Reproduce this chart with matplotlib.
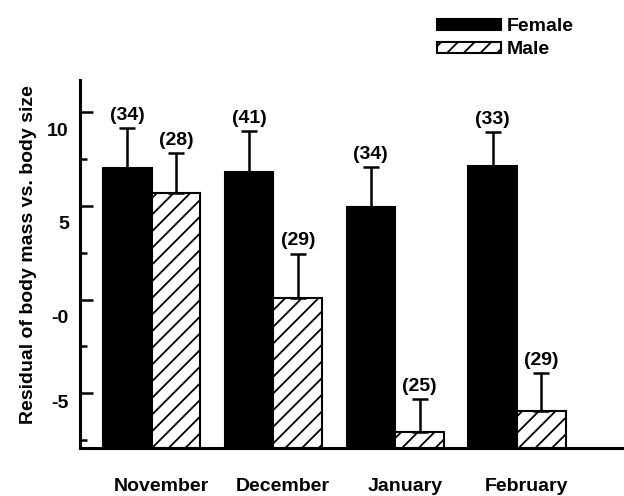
import numpy as np
import matplotlib.pyplot as plt
import matplotlib.transforms as mtransforms

plt.rcParams['font.family'] = ['Liberation Sans', 'DejaVu Sans']
plt.rcParams['hatch.linewidth'] = 1.3

months = ['November', 'December', 'January', 'February']
female = [7.0, 6.8, 4.95, 7.1]
female_err = [2.15, 2.15, 2.1, 1.8]
female_n = ['(34)', '(41)', '(34)', '(33)']
male = [5.7, 0.1, -7.05, -5.95]
male_err = [2.1, 2.35, 1.75, 2.05]
male_n = ['(28)', '(29)', '(25)', '(29)']

ymin, ymax = -7.9, 11.7
w = 0.4
x = np.arange(len(months))

fig = plt.figure(figsize=(6.24, 4.96), dpi=100)
ax = fig.add_axes([0.128, 0.097, 0.88, 0.742])

f = np.array(female)
m = np.array(male)
ax.bar(x - w/2, f - ymin, w, bottom=ymin, color='black', edgecolor='black',
       linewidth=1.5, label='Female')
ax.bar(x + w/2, m - ymin, w, bottom=ymin, color='white', edgecolor='black',
       hatch='//', linewidth=1.5, label='Male')
ax.errorbar(x - w/2, f, yerr=[np.zeros(4), female_err], fmt='none',
            ecolor='black', elinewidth=1.8, capsize=6, capthick=1.8)
ax.errorbar(x + w/2, m, yerr=[np.zeros(4), male_err], fmt='none',
            ecolor='black', elinewidth=1.8, capsize=6, capthick=1.8)

for xi, v, e, n in zip(x - w/2, f, female_err, female_n):
    ax.annotate(n, (xi, v + e), xytext=(0, 3), textcoords='offset points',
                ha='center', va='bottom', fontsize=14, fontweight='bold')
for xi, v, e, n in zip(x + w/2, m, male_err, male_n):
    ax.annotate(n, (xi, v + e), xytext=(0, 3), textcoords='offset points',
                ha='center', va='bottom', fontsize=14, fontweight='bold')

ax.set_xlim(-0.59, 3.92)
ax.set_ylim(ymin, ymax)
ax.set_yticks([-5, 0, 5, 10])
ax.set_yticklabels(['-5', '-0', '5', '10'], fontsize=14, fontweight='bold')
ax.set_yticks([-7.5, -2.5, 2.5, 7.5], minor=True)
ax.tick_params(axis='y', which='major', direction='in', length=9, width=1.8, pad=8)
ax.tick_params(axis='y', which='minor', direction='in', length=5, width=1.8)
ax.set_xticks(x + 0.08)
ax.set_xticklabels(months, fontsize=14, fontweight='bold')
ax.tick_params(axis='x', length=0, pad=22)

for s in ['top', 'right']:
    ax.spines[s].set_visible(False)
for s in ['left', 'bottom']:
    ax.spines[s].set_linewidth(2.2)

# the scanned labels sit below their ticks
for lab, dy in zip(ax.get_yticklabels(), [8, 17, 17, 18]):
    lab.set_transform(lab.get_transform() +
                      mtransforms.ScaledTranslation(0, -dy / 100, fig.dpi_scale_trans))

ax.set_ylabel('Residual of body mass vs. body size', fontsize=14, fontweight='bold')
ax.yaxis.set_label_coords(-0.078, 0.525)

ax.legend(loc='upper left', bbox_to_anchor=(0.618, 1.215), frameon=False,
          prop={'weight': 'bold', 'size': 14}, handlelength=3.3,
          handleheight=0.5, handletextpad=0.3, labelspacing=0.3)

fig.savefig('out.png', dpi=100)
